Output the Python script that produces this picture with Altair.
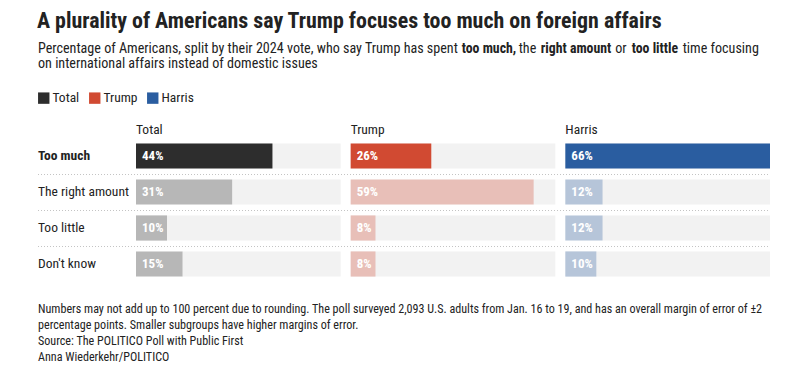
import altair as alt
import pandas as pd

FONT = "Liberation Sans Narrow, Roboto Condensed, DejaVu Sans Condensed, sans-serif"

groups = ["Total", "Trump", "Harris"]
responses = ["Too much", "The right amount", "Too little", "Don't know"]
total_vals = [44, 31, 10, 15]
trump_vals = [26, 59, 8, 8]
harris_vals = [66, 12, 12, 10]
group_colors = ["#2d2d2d", "#d14a32", "#2a5da0"]

title_text = "A plurality of Americans say Trump focuses too much on foreign affairs"
subtitle_segments = [
    ("Percentage of Americans, split by their 2024 vote, who say Trump has spent", "normal"),
    ("too much,", "bold"),
    ("the", "normal"),
    ("right amount", "bold"),
    ("or", "normal"),
    ("too little", "bold"),
    ("time focusing", "normal"),
]
subtitle_line2 = "on international affairs instead of domestic issues"
notes = [
    "Numbers may not add up to 100 percent due to rounding. The poll surveyed 2,093 U.S. adults from Jan. 16 to 19, and has an overall margin of error of ±2",
    "percentage points. Smaller subgroups have higher margins of error.",
    "Source: The POLITICO Poll with Public First",
    "Anna Wiederkehr/POLITICO",
]

rows = []
for gi, (g, vals) in enumerate(zip(groups, [total_vals, trump_vals, harris_vals])):
    for r, v in zip(responses, vals):
        rows.append({"group": g, "gi": gi, "response": r, "value": v})
df = pd.DataFrame(rows)

MAXV = max(total_vals + trump_vals + harris_vals)
GAP = 3.22
W, H = 634, 144
LEFT = -98
TEXT = "#222222"

xscale = alt.Scale(domain=[0, 3 * MAXV + 2 * GAP], nice=False, zero=False)
yenc = alt.Y("response:N", sort=responses, axis=None,
             scale=alt.Scale(domain=responses, paddingInner=0.3, paddingOuter=0.15))

base = alt.Chart(df).transform_calculate(
    start=f"datum.gi * ({MAXV} + {GAP})"
).transform_calculate(
    bgend=f"datum.start + {MAXV}",
    end="datum.start + datum.value",
    label="datum.value + '%'",
)

bg = base.mark_bar(color="#f2f2f2").encode(
    x=alt.X("start:Q", scale=xscale, axis=None), x2="bgend:Q", y=yenc
)

bars = base.mark_bar().encode(
    x=alt.X("start:Q", scale=xscale, axis=None),
    x2="end:Q",
    y=yenc,
    color=alt.Color(
        "group:N",
        scale=alt.Scale(domain=groups, range=group_colors),
        legend=alt.Legend(
            orient="none", legendX=LEFT - 1, legendY=-47, direction="horizontal",
            title=None, symbolType="square", symbolSize=130, symbolStrokeWidth=0,
            symbolOpacity=1, labelFont=FONT, labelFontSize=13.5, labelColor=TEXT,
            labelOffset=2, columnPadding=8,
        ),
    ),
    opacity=alt.condition(alt.datum.response == "Too much", alt.value(1), alt.value(0.3)),
)

labels = base.mark_text(
    align="left", baseline="middle", dx=6, font=FONT, fontSize=13,
    fontWeight="bold", color="white"
).encode(x=alt.X("start:Q", scale=xscale, axis=None), y=yenc, text="label:N")

resp_df = pd.DataFrame({"response": responses})
row_bold = alt.Chart(resp_df).transform_filter(alt.datum.response == "Too much").mark_text(
    align="left", baseline="middle", font=FONT, fontSize=13.5, fontWeight="bold", color=TEXT
).encode(x=alt.value(LEFT), y=yenc, text="response:N")
row_norm = alt.Chart(resp_df).transform_filter(alt.datum.response != "Too much").mark_text(
    align="left", baseline="middle", font=FONT, fontSize=13.5, color=TEXT
).encode(x=alt.value(LEFT), y=yenc, text="response:N")

seps = alt.Chart(resp_df).transform_filter(alt.datum.response != "Don't know").mark_rule(
    color="#c4c4c4", strokeDash=[1, 2], strokeWidth=1, yOffset=18.5
).encode(x=alt.value(LEFT), x2=alt.value(W), y=yenc)

grp_df = pd.DataFrame({"group": groups, "gi": list(range(len(groups)))})
headers = alt.Chart(grp_df).transform_calculate(
    start=f"datum.gi * ({MAXV} + {GAP})"
).mark_text(align="left", baseline="alphabetic", font=FONT, fontSize=13.5, color=TEXT).encode(
    x=alt.X("start:Q", scale=xscale, axis=None), y=alt.value(-4), text="group:N"
)

title = alt.Chart(pd.DataFrame({"t": [title_text]})).mark_text(
    align="left", baseline="alphabetic", font=FONT, fontSize=21.9, fontWeight="bold", color=TEXT
).encode(x=alt.value(LEFT - 1), y=alt.value(-110), text="t:N")

sub_x = [LEFT, 461.7 - 136, 518.7 - 136, 540.7 - 136, 615.3 - 136, 631.7 - 136, 682.7 - 136]
sub_layers = []
for (txt, wt), sx in zip(subtitle_segments, sub_x):
    sub_layers.append(
        alt.Chart(pd.DataFrame({"t": [txt]})).mark_text(
            align="left", baseline="alphabetic", font=FONT,
            fontSize=13.8 if wt == "bold" else 14.1, fontWeight=wt, color=TEXT
        ).encode(x=alt.value(sx), y=alt.value(-84.7), text="t:N")
    )
sub2 = alt.Chart(pd.DataFrame({"t": [subtitle_line2]})).mark_text(
    align="left", baseline="alphabetic", font=FONT, fontSize=14.1, color=TEXT
).encode(x=alt.value(LEFT), y=alt.value(-69.7), text="t:N")

note_layers = []
for i, n in enumerate(notes):
    note_layers.append(
        alt.Chart(pd.DataFrame({"t": [n]})).mark_text(
            align="left", baseline="alphabetic", font=FONT, fontSize=12.1, color=TEXT
        ).encode(x=alt.value(LEFT), y=alt.value(175.3 + 16 * i), text="t:N")
    )

chart = alt.layer(
    bg, bars, labels, seps, row_bold, row_norm, headers, title, *sub_layers, sub2, *note_layers
).properties(
    width=W, height=H,
    background="white",
    autosize=alt.AutoSizeParams(type="none"),
    padding={"left": 128, "top": 130, "right": 20, "bottom": 90},
).configure_view(strokeWidth=0, stroke="transparent")

chart.save("out.html", embed_options={"renderer": "svg", "actions": False})
